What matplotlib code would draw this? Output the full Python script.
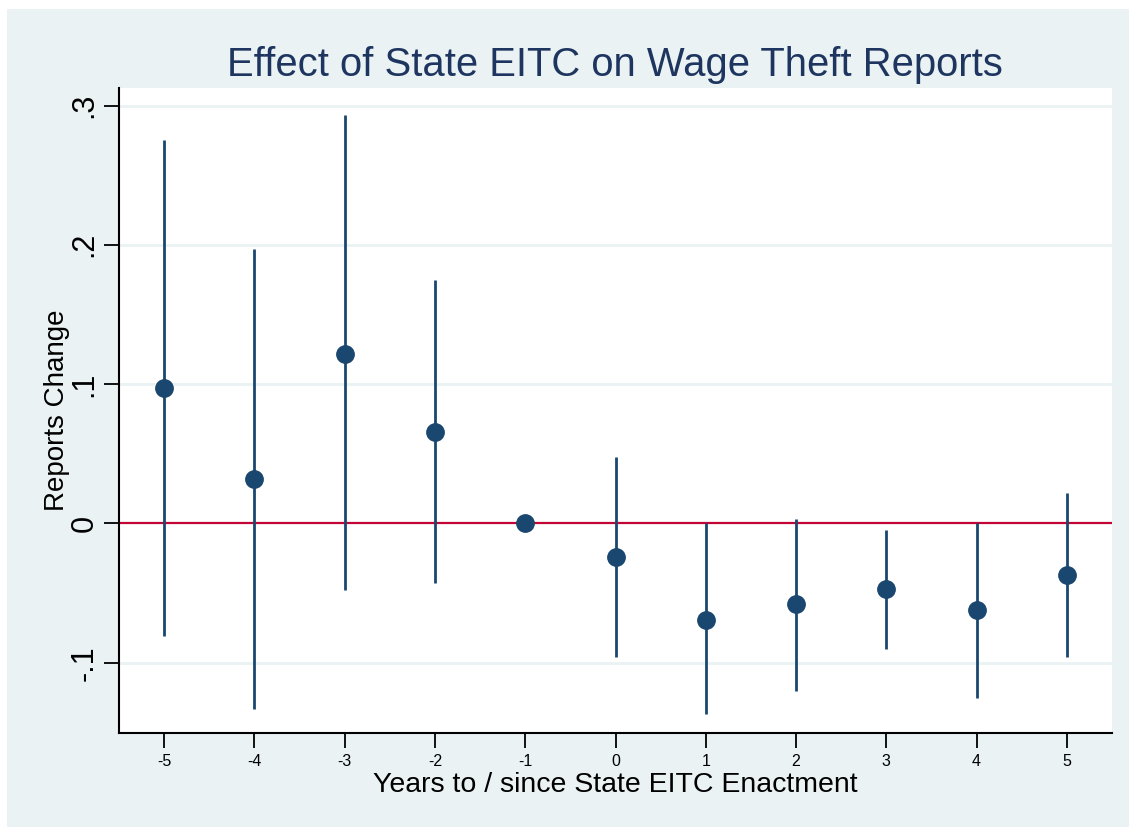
import matplotlib.pyplot as plt
from matplotlib.patches import Rectangle

# Event-study estimates: years relative to state EITC enactment
years = [-5, -4, -3, -2, -1, 0, 1, 2, 3, 4, 5]
coef = [0.097, 0.032, 0.122, 0.066, 0.0, -0.024, -0.069, -0.058, -0.047, -0.062, -0.037]
ci_low = [-0.081, -0.133, -0.048, -0.043, 0.0, -0.096, -0.137, -0.120, -0.090, -0.125, -0.096]
ci_high = [0.275, 0.197, 0.293, 0.175, 0.0, 0.048, 0.0, 0.003, -0.005, 0.0, 0.022]

navy = '#1a476f'
bg = '#eaf2f3'

plt.rcParams['font.family'] = ['Liberation Sans', 'DejaVu Sans']

fig = plt.figure(figsize=(11.29, 8.27), dpi=100, facecolor='white')
fig.patches.append(Rectangle((7 / 1129, 0), 1 - 7 / 1129, 818 / 827,
                             transform=fig.transFigure, facecolor=bg,
                             edgecolor='none', zorder=-5))

ax = fig.add_axes([119 / 1129, 94 / 827, 993 / 1129, 645 / 827])
ax.set_facecolor('white')

# reference gridlines
for g in [-0.1, 0.1, 0.2, 0.3]:
    ax.axhline(g, color=bg, linewidth=2, zorder=1)
ax.axhline(0, color='#c10534', linewidth=1.6, zorder=2)

ax.vlines(years, ci_low, ci_high, color=navy, linewidth=2, zorder=3)
ax.plot(years, coef, 'o', color=navy, markersize=12.5, zorder=4)

ax.set_xlim(-5.5, 5.5)
ax.set_ylim(-0.1504, 0.3126)
ax.set_xticks(years)
ax.set_xticklabels([str(y) for y in years])
ax.set_yticks([-0.1, 0, 0.1, 0.2, 0.3])
ax.set_yticklabels(['-.1', '0', '.1', '.2', '.3'], rotation=90, va='center')

for s in ['top', 'right']:
    ax.spines[s].set_visible(False)
for s in ['left', 'bottom']:
    ax.spines[s].set_linewidth(1.5)
ax.tick_params(axis='y', length=11, width=1.3, labelsize=22, pad=3)
ax.tick_params(axis='x', length=11, width=1.3, labelsize=11.5, pad=4)

ax.set_xlabel('Years to / since State EITC Enactment', fontsize=20.5, labelpad=2)
ax.set_ylabel('Reports Change', fontsize=20, labelpad=0)
fig.text(0.545, 0.922, 'Effect of State EITC on Wage Theft Reports',
         fontsize=28.8, color='#1e3560', ha='center', va='center')

fig.savefig('out.png', dpi=100, facecolor=fig.get_facecolor())
